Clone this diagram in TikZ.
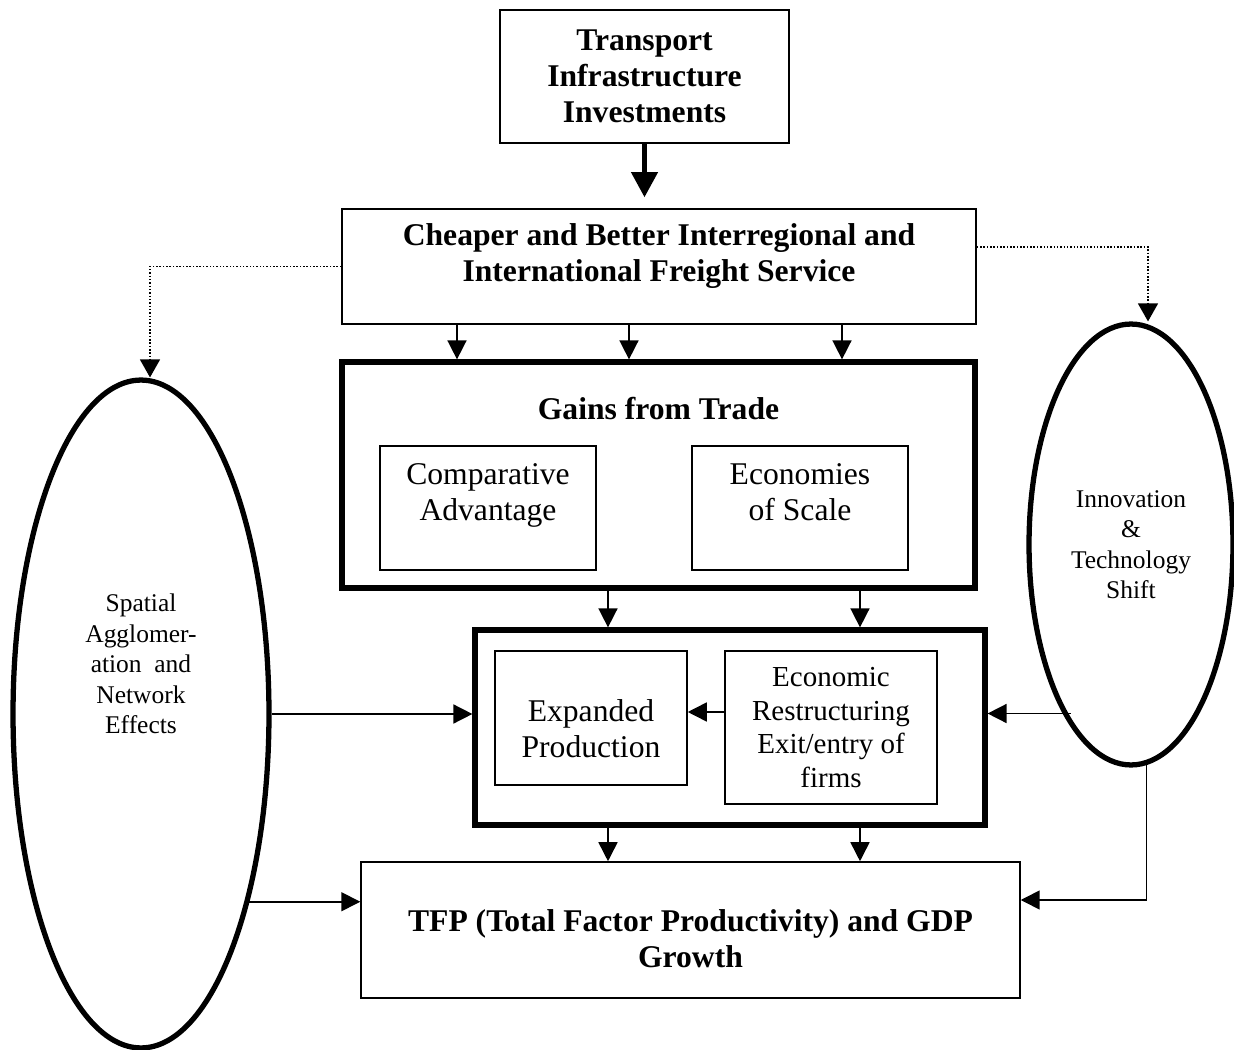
\documentclass[tikz,border=0pt]{standalone}
\usepackage{fontspec}
\setmainfont{Liberation Serif}
\usetikzlibrary{arrows.meta,shapes.geometric}

\begin{document}
\begin{tikzpicture}[x=0.02cm, y=-0.02cm,
		box/.style={draw, line width=0.9pt, inner sep=0pt},
		heavybox/.style={draw, line width=3pt, inner sep=0pt},
		oval/.style={draw, ellipse, line width=3pt, inner sep=0pt},
		boldtxt/.style={font=\fontsize{18}{20.4}\selectfont\bfseries, align=center},
		plaintxt/.style={font=\fontsize{18}{20.5}\selectfont, align=center},
		smalltxt/.style={font=\fontsize{14.5}{17.3}\selectfont, align=center},
		arr/.style={line width=0.9pt, -{Triangle[length=0.38cm, width=0.38cm]}},
		bigarr/.style={line width=2.3pt, -{Triangle[length=0.5cm, width=0.52cm]}},
		dots/.style={line width=0.8pt, dash pattern=on 0.9pt off 1pt, -{Triangle[length=0.36cm, width=0.4cm]}}]
		
		\useasboundingbox (0,0) rectangle (1234,1050);
		
		%% top boxes
		\node[box, boldtxt, minimum width=5.78cm, minimum height=2.66cm] (tii) at (644.5,76.5) {Transport\\Infrastructure\\Investments};
		\node[box, minimum width=12.68cm, minimum height=2.3cm] (fr) at (659,266.5) {};
		\node[boldtxt] (frtxt) at (659,256) {Cheaper and Better Interregional and\\International Freight Service};
		
		%% gains from trade
		\node[heavybox, minimum width=12.66cm, minimum height=4.52cm] (gains) at (658.5,475) {};
		\node[boldtxt] (gainstxt) at (658.5,409) {Gains from Trade};
		\node[box, minimum width=4.32cm, minimum height=2.48cm] (comp) at (488,508) {};
		\node[plaintxt] (comptxt) at (488,495) {Comparative\\Advantage};
		\node[box, minimum width=4.32cm, minimum height=2.48cm] (eos) at (800,508) {};
		\node[plaintxt] (eostxt) at (800,492) {Economies\\of Scale};
		
		%% production
		\node[heavybox, minimum width=10.2cm, minimum height=3.9cm] (prod) at (730,727.5) {};
		\node[box, minimum width=3.84cm, minimum height=2.68cm] (exp) at (591,718) {};
		\node[plaintxt] (exptxt) at (591,729) {Expanded\\Production};
		\node[box, font=\fontsize{16.5}{19.3}\selectfont, align=center, minimum width=4.24cm, minimum height=3.06cm] (restr) at (831,727.5) {Economic\\Restructuring\\Exit/entry of\\firms};
		
		%% result
		\node[box, minimum width=13.18cm, minimum height=2.72cm] (tfp) at (690.5,930) {};
		\node[boldtxt] (tfptxt) at (690.5,939) {TFP (Total Factor Productivity) and GDP\\Growth};
		
		%% side effects
		\node[oval, minimum width=5.12cm, minimum height=13.36cm] (spat) at (141,714) {};
		\node[smalltxt] (spattxt) at (141,664) {Spatial\\Agglomer-\\ation~\ and\\Network\\Effects};
		\node[oval, smalltxt, minimum width=4.08cm, minimum height=8.82cm] (innov) at (1131,544.5) {Innovation\\\&\\Technology\\Shift};
		
		%% connectors
		\draw[bigarr, shorten >=0.22cm] (tii.south) -- (tii.south |- fr.north);
		\foreach \x in {457,629,842}
			\draw[arr] (\x,0 |- fr.south) -- (\x,0 |- gains.north);
		\foreach \x in {608,860} {
			\draw[arr] (\x,0 |- gains.south) -- (\x,0 |- prod.north);
			\draw[arr] (\x,0 |- prod.south) -- (\x,0 |- tfp.north);
		}
		\draw[arr] (restr.west |- 0,712) -- (exp.east |- 0,712);
		
		\draw[dots] (fr.west) -| ([xshift=0.18cm]spat.north);
		\draw[dots] (fr.east |- 0,247) -| ([xshift=0.34cm]innov.north);
		
		\draw[arr] (spat.east) -- (spat.east -| prod.west);
		\draw[arr] (spat.-60) -- (spat.-60 -| tfp.west);
		\draw[arr] ([xshift=0.16cm]innov.248) -- (innov.248 -| prod.east);
		\draw[arr] (innov.-86) |- (tfp.east |- 0,900);
	\end{tikzpicture}
\end{document}
